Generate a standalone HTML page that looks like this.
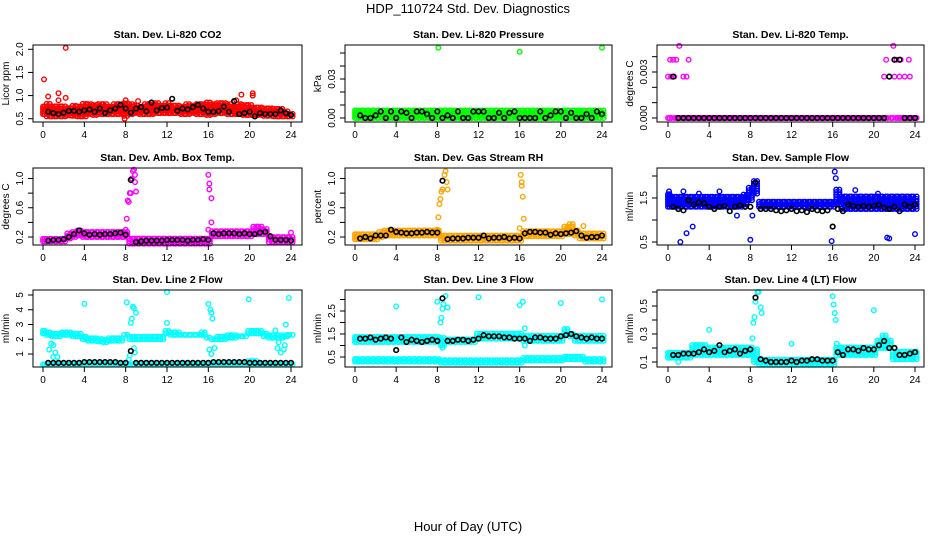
<!DOCTYPE html>
<html><head><meta charset="utf-8"><style>
body{margin:0;background:#fff}
svg{display:block;font-family:"Liberation Sans",sans-serif}
</style></head><body>
<svg id="c" width="936" height="540" viewBox="0 0 936 540">
<text x="468" y="13" font-size="13" text-anchor="middle">HDP_110724  Std. Dev. Diagnostics</text>
<text x="468" y="531" font-size="13" text-anchor="middle">Hour of Day (UTC)</text>
</svg>
<script>
// ---- data (band x = 0..24 step 0.5; black x = 0.5..24 step 0.5) ----
const hourTicks=[0,4,8,12,16,20,24];
const co2Lo=[0.6,0.55,0.55,0.55,0.55,0.57,0.56,0.55,0.55,0.6,0.58,0.6,0.6,0.6,0.6,0.6,0.56,0.6,0.62,0.6,0.6,0.6,0.62,0.62,0.62,0.62,0.62,0.6,0.6,0.62,0.6,0.6,0.58,0.6,0.62,0.62,0.6,0.6,0.6,0.58,0.58,0.58,0.58,0.56,0.56,0.55,0.55,0.55,0.55];
const co2Hi=[0.78,0.82,0.8,0.8,0.8,0.78,0.78,0.8,0.85,0.82,0.8,0.82,0.82,0.8,0.82,0.82,0.85,0.82,0.82,0.8,0.82,0.82,0.84,0.82,0.84,0.82,0.82,0.8,0.82,0.82,0.82,0.84,0.85,0.86,0.85,0.84,0.82,0.8,0.82,0.8,0.8,0.78,0.78,0.76,0.76,0.72,0.72,0.7,0.65];
const co2Out=[[0.1,1.35],[2.2,2.03],[0.5,0.98],[1.5,1.05],[1.5,0.9],[2.2,0.95],[19.2,1.02],[20.3,1.05],[20.3,1.0],[7.9,0.5],[8,0.9],[9.2,0.88],[18.7,0.9]];
const co2Blk=[0.65,0.62,0.6,0.63,0.67,0.67,0.65,0.68,0.7,0.65,0.72,0.62,0.68,0.72,0.8,0.72,0.63,0.72,0.75,0.66,0.85,0.68,0.73,0.74,0.93,0.67,0.72,0.7,0.75,0.8,0.72,0.65,0.65,0.66,0.76,0.65,0.88,0.6,0.62,0.65,0.55,0.62,0.6,0.6,0.6,0.68,0.62,0.58];
const prLo=[0,0,0,0,0,0,0,0,0,0,0,0,0,0,0,0,0,0,0,0,0,0,0,0,0,0,0,0,0,0,0,0,0,0,0,0,0,0,0,0,0,0,0,0,0,0,0,0,0];
const prHi=[0.006,0.006,0.006,0.006,0.006,0.006,0.006,0.006,0.006,0.006,0.006,0.006,0.006,0.006,0.006,0.006,0.006,0.006,0.006,0.006,0.006,0.006,0.006,0.006,0.006,0.006,0.006,0.006,0.006,0.006,0.006,0.006,0.006,0.006,0.006,0.006,0.006,0.006,0.006,0.006,0.006,0.006,0.006,0.006,0.006,0.006,0.006,0.006,0.006];
const prOut=[[8.1,0.054],[16,0.051],[24,0.054]];
const prBlk=[0.002,0,0,0.002,0.005,0,0.005,0,0.005,0.004,0,0.005,0.005,0.003,0,0.005,0,0.002,0,0.005,0,0,0.005,0.005,0.005,0,0,0.004,0,0.004,0.005,0,0,0,0,0.005,0,0.002,0.005,0.005,0,0.004,0,0,0.003,0,0.005,0.003];
const tpLo=prLo, tpHi=prLo;
const tpOut=[[0,0.0027],[0.3,0.0027],[0.6,0.0027],[1.5,0.0027],[1.8,0.0027],[0.2,0.0038],[0.5,0.0038],[0.8,0.0038],[2.0,0.0038],[1.1,0.0047],[21,0.0027],[21.5,0.0027],[22,0.0027],[22.5,0.0027],[23,0.0027],[23.5,0.0027],[21.2,0.0038],[22.2,0.0038],[22.6,0.0038],[23.4,0.0038],[21.9,0.0047],[22.5,0],[23,0],[23.5,0],[24,0]];
const tpBlk=[0.0027,0,0,0,0,0,0,0,0,0,0,0,0,0,0,0,0,0,0,0,0,0,0,0,0,0,0,0,0,0,0,0,0,0,0,0,0,0,0,0,0,0,0.0027,0.0038,0.0038,0,0,0];
const abLo=[0.14,0.14,0.14,0.14,0.14,0.18,0.2,0.22,0.2,0.2,0.2,0.2,0.2,0.2,0.2,0.2,0.2,0.11,0.11,0.11,0.11,0.11,0.11,0.11,0.11,0.11,0.11,0.11,0.11,0.11,0.11,0.11,0.11,0.21,0.21,0.21,0.21,0.21,0.21,0.21,0.21,0.24,0.24,0.24,0.13,0.13,0.13,0.13,0.13];
const abHi=[0.2,0.2,0.2,0.2,0.2,0.26,0.3,0.3,0.3,0.3,0.3,0.3,0.3,0.3,0.3,0.3,0.3,0.18,0.18,0.18,0.18,0.18,0.18,0.18,0.18,0.18,0.18,0.18,0.18,0.18,0.18,0.18,0.18,0.28,0.28,0.28,0.28,0.28,0.28,0.28,0.28,0.36,0.35,0.32,0.2,0.2,0.2,0.2,0.2];
const abOut=[[8.0,0.3],[8.1,0.45],[8.2,0.7],[8.3,0.68],[8.4,0.8],[8.5,0.8],[8.6,1.0],[8.7,1.1],[8.8,1.12],[8.9,1.05],[8.9,0.95],[9,0.82],[16,0.3],[16.0,1.05],[16.1,0.93],[16.1,0.85],[16.3,0.73],[16.3,0.4],[24,0.26]];
const abBlk=[0.15,0.16,0.16,0.17,0.2,0.24,0.29,0.25,0.23,0.24,0.23,0.24,0.24,0.25,0.26,0.23,0.98,0.13,0.14,0.15,0.15,0.15,0.15,0.16,0.16,0.16,0.16,0.15,0.16,0.16,0.17,0.16,0.25,0.24,0.25,0.25,0.25,0.24,0.25,0.24,0.24,0.26,0.27,0.21,0.16,0.16,0.16,0.15];
const rhLo=[0.17,0.17,0.17,0.17,0.17,0.2,0.22,0.22,0.22,0.22,0.22,0.22,0.22,0.22,0.22,0.22,0.22,0.15,0.15,0.15,0.15,0.15,0.15,0.15,0.15,0.15,0.15,0.15,0.15,0.15,0.15,0.15,0.15,0.21,0.21,0.21,0.21,0.21,0.21,0.21,0.21,0.24,0.24,0.22,0.18,0.18,0.18,0.18,0.18];
const rhHi=[0.25,0.25,0.25,0.25,0.25,0.28,0.32,0.32,0.3,0.3,0.3,0.3,0.3,0.3,0.3,0.3,0.3,0.22,0.22,0.22,0.22,0.22,0.22,0.22,0.22,0.22,0.22,0.22,0.22,0.22,0.22,0.22,0.22,0.3,0.3,0.3,0.3,0.3,0.3,0.3,0.3,0.36,0.4,0.32,0.25,0.25,0.25,0.25,0.25];
const rhOut=[[8.0,0.3],[8.1,0.47],[8.2,0.65],[8.3,0.72],[8.4,0.82],[8.5,0.85],[8.7,1.05],[8.8,1.1],[8.9,0.95],[9,0.85],[16,0.32],[16.1,1.05],[16.2,0.95],[16.2,0.9],[16.3,0.75],[16.4,0.45],[22.2,0.35]];
const rhBlk=[0.18,0.2,0.18,0.22,0.22,0.22,0.3,0.27,0.26,0.25,0.25,0.26,0.26,0.27,0.26,0.26,0.97,0.17,0.18,0.18,0.18,0.19,0.19,0.19,0.22,0.18,0.19,0.19,0.2,0.18,0.19,0.18,0.25,0.27,0.27,0.26,0.26,0.23,0.25,0.24,0.25,0.26,0.28,0.22,0.19,0.2,0.2,0.22];
const sfLo=[1.3,1.3,1.3,1.3,1.3,1.3,1.3,1.3,1.3,1.3,1.3,1.3,1.3,1.3,1.3,1.35,1.45,1.6,1.3,1.3,1.3,1.3,1.3,1.3,1.3,1.3,1.3,1.3,1.3,1.3,1.3,1.3,1.3,1.35,1.25,1.25,1.25,1.25,1.25,1.25,1.25,1.25,1.25,1.25,1.25,1.25,1.25,1.25,1.25];
const sfHi=[1.6,1.55,1.55,1.55,1.55,1.55,1.55,1.55,1.55,1.55,1.55,1.55,1.55,1.55,1.55,1.6,1.75,1.9,1.45,1.45,1.45,1.45,1.45,1.45,1.45,1.45,1.45,1.45,1.45,1.45,1.45,1.45,1.45,1.7,1.55,1.55,1.55,1.55,1.55,1.55,1.55,1.55,1.55,1.55,1.55,1.55,1.55,1.55,1.55];
const sfOut=[[1.2,0.5],[1.8,0.7],[2.4,0.85],[8,0.55],[8.2,1.1],[6.7,1.1],[15.9,0.52],[16.2,2.1],[16.3,1.95],[21.3,0.6],[21.5,0.58],[24,0.68],[0.1,1.65],[1.5,1.65],[18.2,1.68],[20.4,1.6],[5,1.65],[3,1.6]];
const sfBlk=[1.3,1.25,1.22,1.45,1.35,1.4,1.38,1.3,1.25,1.3,1.32,1.2,1.3,1.33,1.3,1.3,1.85,1.25,1.25,1.25,1.22,1.2,1.22,1.25,1.2,1.22,1.18,1.25,1.22,1.2,1.22,0.85,1.25,1.2,1.35,1.32,1.3,1.32,1.3,1.32,1.35,1.28,1.25,1.3,1.2,1.35,1.3,1.35];
const l2Lo=[2.4,2.3,2.2,2.2,2.3,2.3,2.2,2.2,2.0,1.9,1.9,1.85,1.8,1.9,1.9,1.9,2.3,2.0,2.0,2.0,2.0,2.0,2.0,2.0,2.4,2.3,2.3,2.3,2.3,2.3,2.3,2.3,2.1,2.0,2.0,2.0,2.1,2.1,2.2,2.2,2.4,2.4,2.4,2.2,2.1,2.1,2.1,2.2,2.3];
const l2Hi=[2.6,2.6,2.5,2.5,2.5,2.5,2.4,2.4,2.3,2.2,2.1,2.1,2.1,2.1,2.1,2.2,2.4,2.3,2.2,2.2,2.2,2.2,2.2,2.2,2.6,2.5,2.5,2.4,2.4,2.4,2.4,2.5,2.2,2.1,2.2,2.2,2.3,2.3,2.3,2.3,2.6,2.6,2.6,2.4,2.3,2.3,2.3,2.3,2.3];
const l2Lo2=[0.3,0.3,0.3,0.3,0.3,0.3,0.3,0.3,0.35,0.35,0.35,0.35,0.35,0.35,0.35,0.35,0.35,0.3,0.3,0.3,0.3,0.3,0.3,0.3,0.3,0.3,0.3,0.3,0.3,0.3,0.3,0.3,0.35,0.35,0.35,0.35,0.35,0.35,0.35,0.35,0.35,0.35,0.35,0.3,0.3,0.3,0.3,0.3,0.3];
const l2Hi2=[0.45,0.45,0.45,0.45,0.45,0.45,0.45,0.45,0.5,0.5,0.5,0.5,0.5,0.5,0.5,0.5,0.5,0.45,0.45,0.45,0.45,0.45,0.45,0.45,0.45,0.45,0.45,0.45,0.45,0.45,0.45,0.45,0.5,0.5,0.5,0.5,0.5,0.5,0.5,0.5,0.55,0.55,0.5,0.45,0.45,0.45,0.45,0.45,0.45];
const l2Out=[[0.6,1.3],[0.8,1.7],[1.0,1.6],[1.2,1.1],[1.4,0.8],[1.0,0.8],[8.3,0.6],[8.4,0.9],[8.5,3.1],[8.6,3.4],[8.7,4.2],[8.8,4.1],[9,3.8],[8.8,1.4],[8.9,1.1],[8.1,4.5],[4,4.4],[12,5.2],[12,3.1],[16,4.4],[16.2,4.0],[16.3,3.8],[16.4,3.4],[16.1,1.3],[16.3,1.0],[16.6,1.4],[19.9,4.7],[23.8,4.8],[23.5,3.0],[23.6,2.3],[23.2,2.1],[22.8,1.8],[22.7,1.4],[23,1.1],[23.3,1.3],[23.4,1.6],[22.5,2.6]];
const l2Blk=[0.4,0.4,0.4,0.4,0.4,0.4,0.4,0.45,0.45,0.45,0.45,0.45,0.45,0.45,0.4,0.4,1.2,0.4,0.4,0.4,0.4,0.4,0.4,0.4,0.4,0.4,0.4,0.4,0.4,0.4,0.4,0.4,0.45,0.45,0.45,0.45,0.45,0.45,0.45,0.4,0.4,0.4,0.4,0.4,0.4,0.4,0.4,0.4];
const l3Lo=[1.15,1.15,1.15,1.15,1.15,1.15,1.15,1.15,1.15,1.15,1.15,1.15,1.15,1.15,1.15,1.15,1.15,1.0,1.15,1.15,1.15,1.15,1.15,1.15,1.3,1.3,1.3,1.3,1.3,1.3,1.3,1.3,1.3,1.2,1.2,1.2,1.2,1.2,1.2,1.2,1.2,1.5,1.4,1.2,1.2,1.2,1.2,1.2,1.2];
const l3Hi=[1.4,1.4,1.4,1.4,1.4,1.4,1.4,1.4,1.4,1.4,1.4,1.4,1.4,1.4,1.4,1.4,1.4,1.4,1.35,1.35,1.35,1.35,1.35,1.35,1.55,1.55,1.55,1.55,1.55,1.55,1.55,1.55,1.55,1.45,1.45,1.45,1.45,1.45,1.45,1.45,1.45,1.75,1.6,1.45,1.45,1.45,1.45,1.45,1.45];
const l3Lo2=[0.3,0.3,0.3,0.3,0.3,0.3,0.3,0.3,0.3,0.3,0.3,0.3,0.3,0.3,0.3,0.3,0.3,0.25,0.25,0.25,0.25,0.25,0.25,0.25,0.25,0.25,0.25,0.25,0.25,0.25,0.25,0.25,0.25,0.35,0.35,0.35,0.35,0.35,0.35,0.35,0.35,0.4,0.4,0.4,0.4,0.3,0.3,0.3,0.3];
const l3Hi2=[0.45,0.45,0.45,0.45,0.5,0.5,0.5,0.5,0.5,0.5,0.5,0.5,0.5,0.5,0.5,0.5,0.5,0.4,0.4,0.4,0.4,0.4,0.4,0.4,0.4,0.4,0.4,0.4,0.4,0.4,0.4,0.4,0.4,0.55,0.55,0.55,0.55,0.55,0.55,0.55,0.55,0.6,0.6,0.55,0.55,0.45,0.45,0.45,0.45];
const l3Out=[[4,2.7],[8,2.9],[8.3,2.0],[8.4,2.2],[8.5,2.6],[8.6,2.8],[8.8,3.15],[9,2.65],[12,3.1],[16,2.75],[16.3,2.9],[16.5,1.75],[20,2.85],[24,3.0],[8.5,0.9],[16.5,1.0]];
const l3Blk=[1.3,1.3,1.35,1.25,1.3,1.35,1.3,0.8,1.35,1.15,1.25,1.2,1.15,1.2,1.25,1.2,3.05,1.2,1.2,1.25,1.25,1.2,1.25,1.3,1.45,1.4,1.4,1.4,1.35,1.35,1.3,1.3,1.3,1.2,1.35,1.35,1.3,1.3,1.3,1.4,1.45,1.5,1.4,1.35,1.3,1.35,1.3,1.3];
const l4Lo=[0.13,0.13,0.13,0.13,0.13,0.15,0.15,0.15,0.15,0.15,0.15,0.15,0.15,0.15,0.15,0.15,0.15,0.1,0.08,0.08,0.08,0.08,0.08,0.08,0.08,0.08,0.08,0.08,0.08,0.08,0.08,0.08,0.08,0.15,0.15,0.15,0.15,0.15,0.15,0.15,0.15,0.2,0.2,0.2,0.12,0.12,0.12,0.12,0.12];
const l4Hi=[0.18,0.18,0.18,0.18,0.18,0.23,0.23,0.23,0.21,0.21,0.21,0.21,0.21,0.21,0.21,0.21,0.21,0.2,0.13,0.13,0.13,0.13,0.13,0.13,0.13,0.13,0.13,0.13,0.13,0.13,0.13,0.13,0.13,0.21,0.21,0.21,0.21,0.21,0.21,0.21,0.21,0.27,0.29,0.27,0.18,0.18,0.18,0.18,0.18];
const l4Out=[[8.2,0.27],[8.3,0.38],[8.4,0.42],[8.5,0.53],[8.7,0.6],[8.8,0.6],[9,0.49],[9.1,0.45],[4,0.33],[12,0.23],[16,0.57],[16.1,0.51],[16.2,0.45],[16.3,0.4],[16.4,0.23],[20,0.47],[1,0.1]];
const l4Blk=[0.15,0.15,0.16,0.16,0.16,0.17,0.19,0.17,0.18,0.22,0.17,0.18,0.19,0.16,0.18,0.19,0.56,0.12,0.11,0.1,0.1,0.1,0.1,0.11,0.1,0.11,0.11,0.12,0.12,0.11,0.11,0.11,0.17,0.15,0.19,0.19,0.18,0.2,0.19,0.19,0.22,0.25,0.2,0.2,0.15,0.15,0.16,0.17];

const panels=[
 {name:'co2',title:'Stan. Dev. Li-820 CO2',ylab:'Licor ppm',col:0,row:0,cal:[0.5,118.7,2.0,49.3],ticks:[0.5,1,1.5,2],labs:['0.5','1.0','1.5','2.0'],labAt:[0.5,1,1.5,2],color:'#ff0000',bands:[[co2Lo,co2Hi]],out:co2Out,blk:co2Blk},
 {name:'pressure',title:'Stan. Dev. Li-820 Pressure',ylab:'kPa',col:1,row:0,cal:[0,118,0.03,79],ticks:[0,0.01,0.02,0.03,0.04,0.05],labs:['0.00','0.03'],labAt:[0,0.03],color:'#00ff00',bands:[[prLo,prHi]],out:prOut,blk:prBlk},
 {name:'temp',title:'Stan. Dev. Li-820 Temp.',ylab:'degrees C',col:2,row:0,cal:[0,118,0.003,72],ticks:[0,0.001,0.002,0.003,0.004],labs:['0.000','0.003'],labAt:[0,0.003],color:'#ff00ff',bands:[[tpLo,tpHi]],out:tpOut,blk:tpBlk},
 {name:'ambbox',title:'Stan. Dev. Amb. Box Temp.',ylab:'degrees C',col:0,row:1,cal:[0.2,237,1.0,178.5],ticks:[0.2,0.4,0.6,0.8,1.0],labs:['0.2','0.6','1.0'],labAt:[0.2,0.6,1.0],color:'#ff00ff',bands:[[abLo,abHi]],out:abOut,blk:abBlk},
 {name:'rh',title:'Stan. Dev. Gas Stream RH',ylab:'percent',col:1,row:1,cal:[0.2,237,1.0,178.5],ticks:[0.2,0.4,0.6,0.8,1.0],labs:['0.2','0.6','1.0'],labAt:[0.2,0.6,1.0],color:'#ffa500',bands:[[rhLo,rhHi]],out:rhOut,blk:rhBlk},
 {name:'sampleflow',title:'Stan. Dev. Sample Flow',ylab:'ml/min',col:2,row:1,cal:[0.5,242,1.5,198],ticks:[0.5,1,1.5,2],labs:['0.5','1.5'],labAt:[0.5,1.5],color:'#0000ff',bands:[[sfLo,sfHi]],out:sfOut,blk:sfBlk},
 {name:'line2',title:'Stan. Dev. Line 2 Flow',ylab:'ml/min',col:0,row:2,cal:[1,354,5,295],ticks:[1,2,3,4,5],labs:['1','2','3','4','5'],labAt:[1,2,3,4,5],color:'#00ffff',bands:[[l2Lo,l2Hi],[l2Lo2,l2Hi2]],out:l2Out,blk:l2Blk},
 {name:'line3',title:'Stan. Dev. Line 3 Flow',ylab:'ml/min',col:1,row:2,cal:[0.5,357,2.5,311],ticks:[0.5,1,1.5,2,2.5,3],labs:['0.5','1.5','2.5'],labAt:[0.5,1.5,2.5],color:'#00ffff',bands:[[l3Lo,l3Hi],[l3Lo2,l3Hi2]],out:l3Out,blk:l3Blk},
 {name:'line4',title:'Stan. Dev. Line 4 (LT) Flow',ylab:'ml/min',col:2,row:2,cal:[0.1,362,0.5,306],ticks:[0.1,0.2,0.3,0.4,0.5,0.6],labs:['0.1','0.3','0.5'],labAt:[0.1,0.3,0.5],color:'#00ffff',bands:[[l4Lo,l4Hi]],out:l4Out,blk:l4Blk}
];
const colGeom=[{L:33,R:302,x0:43,x24:291},{L:345,R:612,x0:355,x24:602},{L:657,R:924,x0:668,x24:915}];
const rowGeom=[{T:45,B:122},{T:168,B:245},{T:290,B:367}];
const NS='http://www.w3.org/2000/svg';
const svg=document.getElementById('c');
function mk(tag,attrs,parent){const e=document.createElementNS(NS,tag);for(const k in attrs)e.setAttribute(k,attrs[k]);(parent||svg).appendChild(e);return e;}
panels.forEach(p=>{
 const cg=colGeom[p.col], rg=rowGeom[p.row];
 const g=mk('g',{});
 
 
 const xs=h=>cg.x0+(cg.x24-cg.x0)*h/24;
 const ys=v=>p.cal[1]+(v-p.cal[0])*(p.cal[3]-p.cal[1])/(p.cal[2]-p.cal[0]);
 const cx=(cg.L+cg.R)/2;
 const t=mk('text',{x:cx,y:rg.T-7,'font-size':'10.5','font-weight':'bold','text-anchor':'middle'},g);
 t.textContent=p.title;
 
 
 // points
 const pts=mk('g',{fill:'none','stroke-width':'1.4'},g);
 
 
 p.bands.forEach(b=>{
  const lo=b[0],hi=b[1];
  lo.forEach((v,i)=>{
   const h=i*0.5;const y1=ys(v),y2=ys(hi[i]);
   const top=Math.min(y1,y2),bot=Math.max(y1,y2);
   for(let y=bot;y>=top-0.01;y-=2.5){
    [-1.6,1.6].forEach(dx=>{
     const x=Math.min(Math.max(xs(h)+dx,cg.x0),cg.x24+2);
     const c=mk('circle',{cx:x,cy:y,r:2.3,stroke:p.color},pts);
     
     
    });
    if(bot-top<1)break;
   }
  });
 });
 p.out.forEach(o=>{
  const c=mk('circle',{cx:xs(o[0]),cy:ys(o[1]),r:2.3,stroke:p.color},pts);
  
  
 });
 p.blk.forEach((v,i)=>{
  if(v===null)return;
  const c=mk('circle',{cx:xs(0.5+i*0.5),cy:ys(v),r:2.3,stroke:'#000','stroke-width':'1.6'},pts);
  
  
 });
 // box
 const box=mk('rect',{x:cg.L,y:rg.T,width:cg.R-cg.L,height:rg.B-rg.T,fill:'none',stroke:'#000','stroke-width':'1'},g);
 
 
 // x axis
 hourTicks.forEach(h=>{
  mk('line',{x1:xs(h),x2:xs(h),y1:rg.B,y2:rg.B+5,stroke:'#000'},g);
  const l=mk('text',{x:xs(h),y:rg.B+16,'font-size':'10','text-anchor':'middle'},g);
  l.textContent=h;
  
  
 });
 // y axis
 p.ticks.forEach(v=>{mk('line',{x1:cg.L-5,x2:cg.L,y1:ys(v),y2:ys(v),stroke:'#000'},g);});
 p.labAt.forEach((v,i)=>{
  const x=cg.L-10,y=ys(v);
  const l=mk('text',{x:x,y:y,'font-size':'10','text-anchor':'middle',transform:`rotate(-90 ${x} ${y})`},g);
  l.textContent=p.labs[i];
  
  
 });
 const yx=cg.L-24,yy=(rg.T+rg.B)/2;
 const yl=mk('text',{x:yx,y:yy,'font-size':'10','text-anchor':'middle',transform:`rotate(-90 ${yx} ${yy})`},g);
 yl.textContent=p.ylab;
 
 
});
</script>
</body></html>
